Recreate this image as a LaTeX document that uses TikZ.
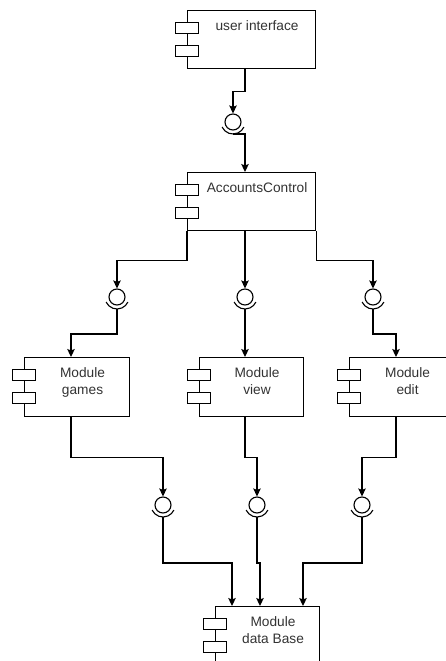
\documentclass[tikz,border=0pt]{standalone}
\usepackage{fontspec}
\setmainfont{Liberation Sans}
\usetikzlibrary{arrows.meta,calc}
\tikzset{
  line/.style={line width=1.1pt, draw=black},
  arr/.style={line, -{Stealth[length=8pt,width=7.5pt,inset=1.5pt]}},
  cbox/.style={draw, line width=1.1pt, fill=white, inner sep=0pt},
  port/.style={draw, line width=1.1pt, fill=white, inner sep=0pt, minimum width=23, minimum height=11},
  lbl/.style={inner sep=0pt, align=center, text=black!80, font=\fontsize{13.7}{17}\selectfont},
  ball/.style={circle, draw, line width=1.1pt, fill=white, inner sep=0pt, minimum size=16}
}
\newcommand{\umlcomp}[6]{%
  \node[cbox, minimum width=#4, minimum height=#5, anchor=north west] (#1) at (#2,#3) {};
  \node[port, anchor=north west] (#1p1) at ($(#1.north west)+(-12,12)$) {};
  \node[port, anchor=north west] (#1p2) at ($(#1.north west)+(-12,35)$) {};
  \node[lbl, anchor=north] (#1t) at ($(#1.north west)!.5!(#1.north east)+(5.5,10.5)$) {#6};
}
\newcommand{\iface}[3]{%
  \node[ball] (#1) at (#2,#3) {};
  \draw[line] ([shift={(155:12)}]#1.center) arc[start angle=155, end angle=25, radius=12];
  \coordinate (#1s) at ([shift={(0,12)}]#1.center);
}
\begin{document}
\begin{tikzpicture}[x=1pt,y=-1pt]
\useasboundingbox (0,0) rectangle (446,661);
\clip (0,0) rectangle (446,661);
\fill[white] (0,0) rectangle (446,661);

\umlcomp{ui}{187}{10}{128}{58}{user interface}
\umlcomp{ac}{187}{172}{128}{58}{AccountsControl}
\umlcomp{games}{24}{357}{105}{59}{Module\\games}
\umlcomp{view}{199}{357}{104}{59}{Module\\view}
\umlcomp{edit}{349}{357}{105}{59}{Module\\edit}
\umlcomp{db}{215}{606}{104}{80}{Module\\data Base}

\iface{b0}{233}{122}
\iface{b1}{117}{297}
\iface{b2}{245}{297}
\iface{b3}{373}{297}
\iface{b4}{163}{505}
\iface{b5}{257}{505}
\iface{b6}{362}{505}

\coordinate (gin) at (71,357);
\coordinate (ein) at (396,357);
\coordinate (d1) at (232,606);
\coordinate (d2) at (260,606);
\coordinate (d3) at (303,606);

% user interface -> AccountsControl
\draw[arr] (ui.south -| b2) -- ++(0,22) -| (b0.north);
\draw[arr] (b0s) -| (ac.north -| b2);

% AccountsControl -> modules
\draw[arr] (ac.south west) -- ++(0,29) -| (b1.north);
\draw[arr] (ac.south -| b2) -- (b2.north);
\draw[arr] (ac.south east) -- ++(0,29) -| (b3.north);
\draw[arr] (b1s) -- ++(0,25) -| (gin);
\draw[arr] (b2s) -- (view.north -| b2);
\draw[arr] (b3s) -- ++(0,25) -| (ein);

% modules -> data base
\draw[arr] (games.south -| gin) -- ++(0,40) -| (b4.north);
\draw[arr] (view.south -| b2) -- ++(0,40) -| (b5.north);
\draw[arr] (edit.south -| ein) -- ++(0,40) -| (b6.north);
\draw[arr] (b4s) -- ++(0,46) -| (d1);
\draw[arr] (b5s) -- ++(0,46) -| (d2);
\draw[arr] (b6s) -- ++(0,46) -| (d3);
\end{tikzpicture}
\end{document}
